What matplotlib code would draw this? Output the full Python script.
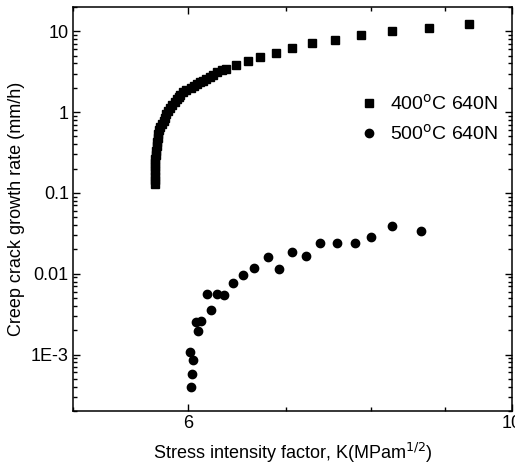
import numpy as np
import matplotlib
matplotlib.use("Agg")
import matplotlib.pyplot as plt
from matplotlib.ticker import FixedLocator, FixedFormatter, LogLocator, NullFormatter

plt.rcParams['font.family'] = ['Liberation Sans Narrow', 'Liberation Sans', 'DejaVu Sans']
plt.rcParams['mathtext.fontset'] = 'custom'
plt.rcParams['mathtext.rm'] = 'Liberation Sans Narrow'

# 400 C, 640 N  (squares)
k_400 = [9.35, 8.77, 8.28, 7.88, 7.56, 7.29, 7.07, 6.89, 6.72, 6.59, 6.47,
         6.37, 6.33, 6.28, 6.24, 6.21, 6.17, 6.14, 6.11, 6.08, 6.05, 6.02, 5.98,
         5.95, 5.92, 5.91, 5.89, 5.87, 5.85, 5.83, 5.81, 5.79, 5.78, 5.77, 5.75,
         5.74, 5.73, 5.72, 5.72, 5.71, 5.71, 5.70, 5.70, 5.69, 5.69, 5.69, 5.69,
         5.69, 5.69, 5.69]
rate_400 = [12.2, 10.9, 10.0, 8.92, 7.74, 7.11, 6.17, 5.35, 4.78, 4.26, 3.80,
            3.40, 3.30, 3.12, 2.86, 2.70, 2.56, 2.41, 2.35, 2.22, 2.09, 1.98, 1.87,
            1.77, 1.62, 1.53, 1.45, 1.33, 1.22, 1.12, 1.03, 0.945, 0.843, 0.774, 0.711,
            0.653, 0.600, 0.535, 0.477, 0.426, 0.380, 0.330, 0.294, 0.263, 0.234,
            0.209, 0.187, 0.162, 0.145, 0.129]

# 500 C, 640 N  (circles)
k_500 = [6.02, 6.03, 6.04, 6.01, 6.09, 6.07, 6.12, 6.22, 6.18, 6.28, 6.35, 6.44,
         6.54, 6.65, 6.80, 6.92, 7.06, 7.22, 7.39, 7.59, 7.80, 8.01, 8.27, 8.66]
rate_500 = [3.92e-4, 5.66e-4, 8.43e-4, 1.06e-3, 1.98e-3, 2.55e-3, 2.63e-3, 3.60e-3,
            5.66e-3, 5.66e-3, 5.51e-3, 7.75e-3, 9.72e-3, 1.19e-2, 1.62e-2, 1.15e-2,
            1.87e-2, 1.67e-2, 2.42e-2, 2.42e-2, 2.42e-2, 2.86e-2, 3.92e-2, 3.40e-2]

x_major = [6, 10]
x_minor = [5, 7, 8, 9]
y_major = [10, 1, 0.1, 0.01, 1e-3]
y_labels = ["10", "1", "0.1", "0.01", "1E-3"]

fig = plt.figure(figsize=(5.15, 4.76), dpi=100)
ax = fig.add_axes([0.1417, 0.1366, 0.8525, 0.8487])

ax.plot(k_400, rate_400, ls="none", marker="s", ms=5.3, color="black",
        label="400$^{\\rm o}$C 640N")
ax.plot(k_500, rate_500, ls="none", marker="o", ms=6, color="black",
        label="500$^{\\rm o}$C 640N")

ax.set_xscale("log")
ax.set_yscale("log")
ax.set_xlim(5, 10)
ax.set_ylim(2e-4, 20)

ax.xaxis.set_major_locator(FixedLocator(x_major))
ax.xaxis.set_major_formatter(FixedFormatter([str(v) for v in x_major]))
ax.xaxis.set_minor_locator(FixedLocator(x_minor))
ax.xaxis.set_minor_formatter(NullFormatter())
ax.yaxis.set_major_locator(FixedLocator(y_major))
ax.yaxis.set_major_formatter(FixedFormatter(y_labels))
ax.yaxis.set_minor_locator(LogLocator(base=10, subs=np.arange(2, 10)))
ax.yaxis.set_minor_formatter(NullFormatter())

ax.tick_params(which="both", direction="in", top=True, right=True, width=1.0)
ax.tick_params(which="major", length=5, labelsize=13, pad=3)
ax.tick_params(which="minor", length=3)
for s in ax.spines.values():
    s.set_linewidth(1.1)

ax.set_xlabel("Stress intensity factor, K(MPam$^{1/2}$)", fontsize=13, labelpad=6)
ax.set_ylabel("Creep crack growth rate (mm/h)", fontsize=13, labelpad=4)

ax.legend(loc="upper left", bbox_to_anchor=(0.62, 0.82), frameon=False,
          fontsize=14, handletextpad=0.6, labelspacing=0.55, borderpad=0.2,
          handlelength=1.0)

fig.savefig("out.png", dpi=100)
